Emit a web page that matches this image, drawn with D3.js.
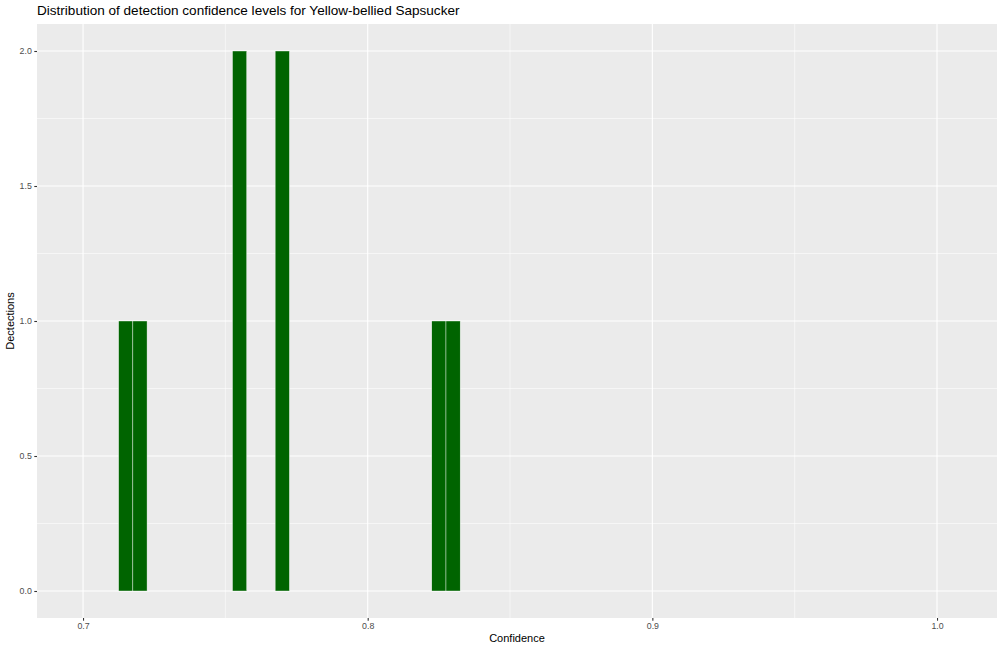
<!DOCTYPE html>
<html><head><meta charset="utf-8">
<script src="https://cdn.jsdelivr.net/npm/d3@7"></script>
<style>body{margin:0;background:#fff}svg{display:block}text{font-family:"Liberation Sans",Arial,sans-serif}</style>
</head><body><svg id="c" width="1000" height="651"></svg>
<script>
// histogram bins (binwidth 0.005), centers and counts
const binCenters = [0.715, 0.720, 0.755, 0.770, 0.825, 0.830];
const binCounts  = [1, 1, 2, 2, 1, 1];
const binWidth = 0.005;
const xTicks = [0.7, 0.8, 0.9, 1.0];
const xMinor = [0.75, 0.85, 0.95];
const yTicks = [0, 0.5, 1.0, 1.5, 2.0];
const yMinor = [0.25, 0.75, 1.25, 1.75];
const title = "Distribution of detection confidence levels for Yellow-bellied Sapsucker";
const xLabel = "Confidence";
const yLabel = "Dectections";

const svg = d3.select("#c");
const L = 37, R = 997, T = 24, B = 618;
const x = d3.scaleLinear().domain([0.68383, 1.02107]).range([L, R]);
const y = d3.scaleLinear().domain([-0.1, 2.1]).range([B, T]);

svg.append("rect").attr("x", L).attr("y", T).attr("width", R - L).attr("height", B - T).attr("fill", "#ebebeb");

const g = svg.append("g");
xMinor.forEach(v => g.append("line").attr("x1", x(v)).attr("x2", x(v)).attr("y1", T).attr("y2", B).attr("stroke", "#fff").attr("stroke-width", 0.55));
yMinor.forEach(v => g.append("line").attr("y1", y(v)).attr("y2", y(v)).attr("x1", L).attr("x2", R).attr("stroke", "#fff").attr("stroke-width", 0.55));
xTicks.forEach(v => g.append("line").attr("x1", x(v)).attr("x2", x(v)).attr("y1", T).attr("y2", B).attr("stroke", "#fff").attr("stroke-width", 1.1));
yTicks.forEach(v => g.append("line").attr("y1", y(v)).attr("y2", y(v)).attr("x1", L).attr("x2", R).attr("stroke", "#fff").attr("stroke-width", 1.1));

svg.append("g").selectAll("rect").data(binCenters).join("rect")
  .attr("x", (d) => x(d - binWidth / 2))
  .attr("width", (d) => x(d + binWidth / 2) - x(d - binWidth / 2))
  .attr("y", (d, i) => y(binCounts[i]))
  .attr("height", (d, i) => y(0) - y(binCounts[i]))
  .attr("fill", "#006400").attr("stroke", "#ffffff").attr("stroke-width", 0.5).attr("stroke-opacity", 0.8);

// axes
const xAxis = d3.axisBottom(x).tickValues(xTicks).tickFormat(d3.format(".1f")).tickSize(2.7).tickPadding(2.5);
const xa = svg.append("g").attr("transform", `translate(0,${B})`).call(xAxis);
const yAxis = d3.axisLeft(y).tickValues(yTicks).tickFormat(d3.format(".1f")).tickSize(2.7).tickPadding(2.5);
const ya = svg.append("g").attr("transform", `translate(${L},0)`).call(yAxis);
[xa, ya].forEach(a => {
  a.select(".domain").remove();
  a.selectAll(".tick line").attr("stroke", "#333").attr("stroke-width", 1.1);
  a.selectAll(".tick text").attr("fill", "#4d4d4d").style("font-size", "8.8px").style("font-family", "Liberation Sans, Arial, sans-serif");
});

svg.append("text").attr("x", L).attr("y", 15).text(title).attr("font-size", "13.55px").attr("fill", "#000");
svg.append("text").attr("x", (L + R) / 2).attr("y", 642).attr("text-anchor", "middle").text(xLabel).attr("font-size", "11px").attr("fill", "#000");
svg.append("text").attr("transform", `translate(14,${(T + B) / 2}) rotate(-90)`).attr("text-anchor", "middle").text(yLabel).attr("font-size", "11px").attr("fill", "#000");
</script></body></html>
